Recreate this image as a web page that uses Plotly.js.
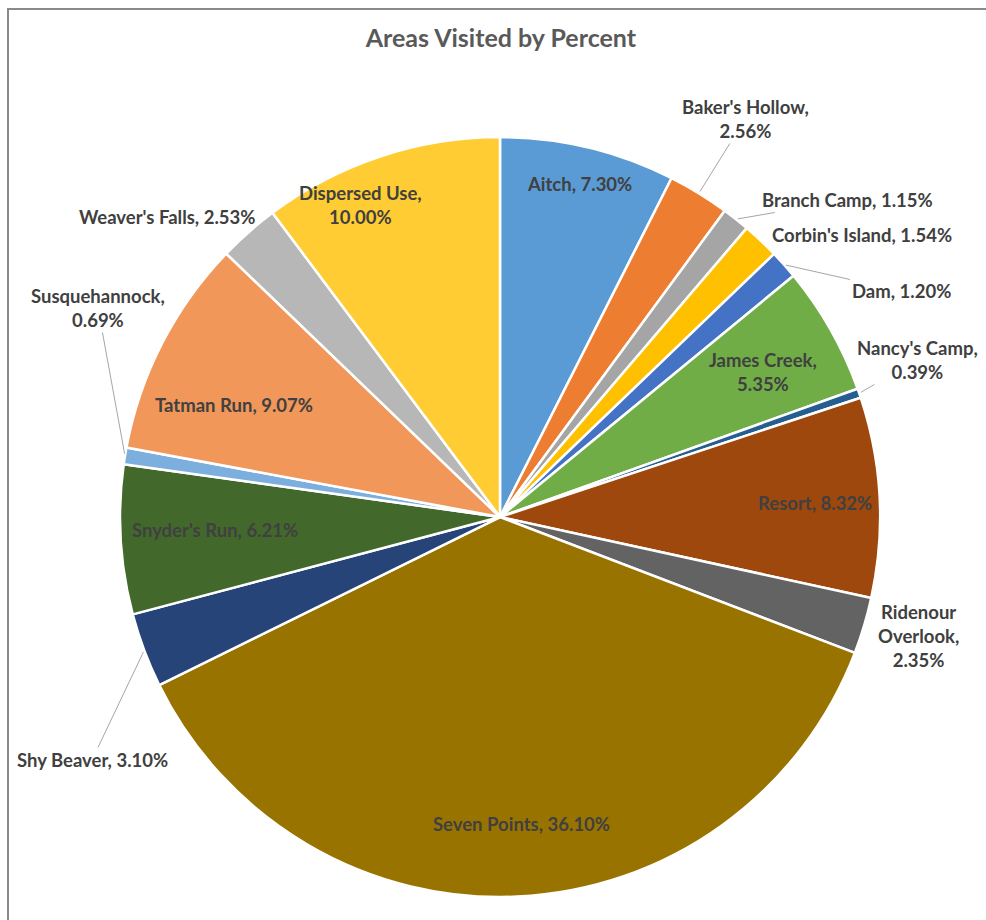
<!DOCTYPE html>
<html>
<head>
<meta charset="utf-8">
<script src="https://cdn.plot.ly/plotly-3.0.1.min.js"></script>
<style>
  html, body { margin: 0; padding: 0; background: #fff; }
  #wrap { position: relative; width: 986px; height: 920px; overflow: hidden; }
  #chart { position: absolute; left: 0; top: 0; width: 986px; height: 920px; }
  #frame { position: absolute; left: 7px; top: 8px; width: 1200px; height: 1200px;
           border-left: 2px solid #8a8a8a; border-top: 2px solid #8a8a8a; pointer-events: none; }
</style>
</head>
<body>
<div id="wrap">
  <div id="chart"></div>
  <div id="frame"></div>
</div>
<script>
// ---- data ----
const categories = ["Aitch", "Baker's Hollow", "Branch Camp", "Corbin's Island", "Dam",
  "James Creek", "Nancy's Camp", "Resort", "Ridenour Overlook", "Seven Points",
  "Shy Beaver", "Snyder's Run", "Susquehannock", "Tatman Run", "Weaver's Falls", "Dispersed Use"];
const percentValues = [7.30, 2.56, 1.15, 1.54, 1.20, 5.35, 0.39, 8.32, 2.35, 36.10,
  3.10, 6.21, 0.69, 9.07, 2.53, 10.00];
// where each label name wraps (display only)
const labelNames = ["Aitch", "Baker's Hollow", "Branch Camp", "Corbin's Island", "Dam",
  "James Creek", "Nancy's Camp", "Resort", "Ridenour<br>Overlook", "Seven Points",
  "Shy Beaver", "Snyder's Run", "Susquehannock", "Tatman Run", "Weaver's Falls", "Dispersed Use"];
const wrapValue = [false, true, false, false, false, true, true, false, true, false,
  false, false, true, false, false, true];

// ---- styles ----
const sliceColors = ["#5B9BD5", "#ED7D31", "#A5A5A5", "#FFC000", "#4472C4", "#70AD47",
  "#255E91", "#9E480E", "#636363", "#997300", "#264478", "#43682B", "#7CAFDD",
  "#F1975A", "#B7B7B7", "#FFCD33"];
// label placement: inside labels as polar (radius fraction, angle nudge in deg),
// outside labels as pixel text centres, optional leader line
const labelPlacement = [
  { r: 0.90, da: 0 },
  { px: 745, py: 119, leader: true },
  { px: 847, py: 200, leader: true },
  { px: 862, py: 235, leader: false },
  { px: 901, py: 291, leader: true },
  { r: 0.79, da: 0.7 },
  { px: 917, py: 360, leader: true },
  { r: 0.83, da: 0.5 },
  { px: 918, py: 636, leader: false },
  { r: 0.81, da: -1.4 },
  { px: 92, py: 760, leader: true },
  { r: 0.75, da: 0.8 },
  { px: 98, py: 308, leader: true },
  { r: 0.76, da: -4.3 },
  { px: 167, py: 217, leader: false },
  { r: 0.90, da: -5.6 }
];

const W = 986, H = 920;
const dom = { x: [0.1217, 0.8925], y: [0.025, 0.851] };
const labelFont = { family: "Lato, 'Open Sans', sans-serif", size: 18.5, color: "#404040", weight: "bold" };

const trace = {
  type: "pie",
  labels: categories,
  values: percentValues,
  textinfo: "none",
  hoverinfo: "label+value",
  sort: false,
  direction: "clockwise",
  rotation: 0,
  marker: { colors: sliceColors, line: { color: "#ffffff", width: 2.5 } },
  domain: dom,
  showlegend: false
};

// pie geometry (same as Plotly's: centre of domain, radius = half the smaller side)
const cx = (dom.x[0] + dom.x[1]) / 2 * W;
const cy = (1 - (dom.y[0] + dom.y[1]) / 2) * H;
const R = Math.min((dom.x[1] - dom.x[0]) * W, (dom.y[1] - dom.y[0]) * H) / 2;
const total = percentValues.reduce((a, b) => a + b, 0);
let cum = 0;
const midAngles = percentValues.map(v => { const m = (cum + v / 2) / total * 360; cum += v; return m; });

const annotations = categories.map((c, i) => {
  const txt = "<b>" + labelNames[i] + "," + (wrapValue[i] ? "<br>" : " ") +
              percentValues[i].toFixed(2) + "%</b>";
  const p = labelPlacement[i];
  const base = { text: txt, font: labelFont, xref: "paper", yref: "paper",
                 xanchor: "center", yanchor: "middle", align: "center" };
  if (p.r !== undefined) {
    const t = (midAngles[i] + p.da) * Math.PI / 180;
    const x = cx + p.r * R * Math.sin(t), y = cy - p.r * R * Math.cos(t);
    return Object.assign(base, { x: x / W, y: 1 - y / H, showarrow: false });
  }
  if (!p.leader) {
    return Object.assign(base, { x: p.px / W, y: 1 - p.py / H, showarrow: false });
  }
  const t = midAngles[i] * Math.PI / 180;
  const ex = cx + R * Math.sin(t), ey = cy - R * Math.cos(t);
  return Object.assign(base, {
    x: ex / W, y: 1 - ey / H, showarrow: true, arrowhead: 0, arrowwidth: 1,
    arrowcolor: "#A6A6A6", standoff: 2, ax: p.px - ex, ay: p.py - ey
  });
});

const layout = {
  width: W,
  height: H,
  margin: { l: 0, r: 0, t: 0, b: 0 },
  paper_bgcolor: "#ffffff",
  title: {
    text: "<b>Areas Visited by Percent</b>",
    font: { family: "Lato, 'Open Sans', sans-serif", size: 25, color: "#595959" },
    x: 0.508, xanchor: "center", y: 0.958, yanchor: "middle"
  },
  annotations: annotations,
  showlegend: false
};

Plotly.newPlot("chart", [trace], layout, { displayModeBar: false, staticPlot: true });
</script>
</body>
</html>
